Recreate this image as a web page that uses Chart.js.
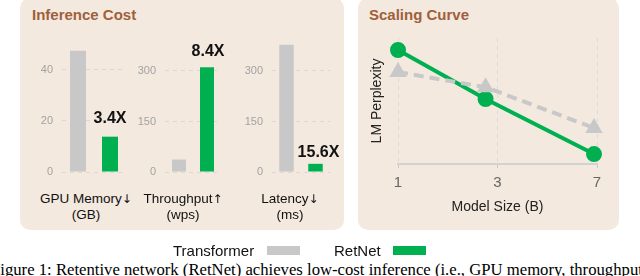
<!DOCTYPE html>
<html>
<head>
<meta charset="utf-8">
<script src="https://cdn.jsdelivr.net/npm/chart.js@4.4.1/dist/chart.umd.min.js"></script>
<style>
  html, body { margin: 0; padding: 0; background: #fff; }
  body { width: 640px; height: 276px; overflow: hidden; position: relative; font-family: "Liberation Sans", Arial, sans-serif; }
  .panel { position: absolute; top: -2px; height: 232px; background: #f3e9df; border-radius: 10px; }
  .title { position: absolute; top: 6px; font-weight: bold; font-size: 15px; color: #a0603a; white-space: nowrap; }
  .cat { position: absolute; top: 191px; width: 120px; text-align: center; font-size: 13.5px; line-height: 16px; color: #111; white-space: nowrap; }
  .arrow { font-family: "DejaVu Sans", sans-serif; font-size: 12px; color: #111; }
  canvas { position: absolute; }
  .legend { position: absolute; top: 242px; font-size: 15px; line-height: 17px; color: #111; white-space: nowrap; }
  .swatch { position: absolute; top: 246px; width: 33px; height: 9px; }
  .caption { position: absolute; top: 260px; left: -9px; font-family: "Liberation Serif", "Times New Roman", serif; font-size: 16.7px; color: #000; white-space: nowrap; }
</style>
</head>
<body>
<div class="panel" style="left:20px; width:324px;"></div>
<div class="panel" style="left:358px; width:261px;"></div>
<div class="title" style="left:32px;">Inference Cost</div>
<div class="title" style="left:369px;">Scaling Curve</div>

<canvas id="memChart" width="110" height="150" style="left:30px; top:30px; width:110px; height:150px;"></canvas>
<canvas id="tputChart" width="110" height="150" style="left:127px; top:30px; width:110px; height:150px;"></canvas>
<canvas id="latChart" width="112" height="150" style="left:232px; top:30px; width:112px; height:150px;"></canvas>
<canvas id="scaleChart" width="255" height="192" style="left:360px; top:28px; width:255px; height:192px;"></canvas>

<div id="cats"></div>

<div class="legend" style="left:173px;">Transformer</div>
<div class="swatch" style="left:267px; background:#c8c8c8;"></div>
<div class="legend" style="left:334px;">RetNet</div>
<div class="swatch" style="left:393px; background:#00b050;"></div>

<div class="caption">Figure 1: Retentive network (RetNet) achieves low-cost inference (i.e., GPU memory, throughput, and latency)</div>

<script>
// inference cost panels
const costMetrics = [["GPU Memory", "↓", "(GB)"], ["Throughput", "↑", "(wps)"], ["Latency", "↓", "(ms)"]];
const transformerCost = [47.4, 37, 378];
const retnetCost = [13.8, 311, 24.3];
const ratioLabels = ["3.4X", "8.4X", "15.6X"];
const costTicks = [[0, 20, 40], [0, 150, 300], [0, 150, 300]];

// scaling curve panel
const sizeTicks = ["1", "3", "7"];
const sizePos = [0, 0.88, 1.97];
const retnetPpl = [90.5, 51.6, 7.9];
const transformerPpl = [73, 61, 28.6];

const GRAY = "#c8c8c8";
const GREEN = "#00b050";
const FONT = "'Liberation Sans', Arial, sans-serif";

Chart.defaults.font.family = FONT;
Chart.defaults.animation = false;

const ratioLabelPlugin = {
  id: "ratioLabel",
  afterDatasetsDraw(chart, _args, options) {
    if (!options.text) return;
    const bar = chart.getDatasetMeta(1).data[0];
    if (!bar) return;
    const { ctx } = chart;
    ctx.save();
    ctx.font = `bold 16px ${FONT}`;
    ctx.fillStyle = "#111";
    ctx.textAlign = "center";
    ctx.textBaseline = "alphabetic";
    ctx.fillText(options.text, bar.x + (options.dx || 0), bar.y - options.gap);
    ctx.restore();
  },
};

// per panel layout: y-axis width, y max, right padding, label offsets
const costLayout = [
  { id: "memChart", axisWidth: 32, max: 50, step: 20, padRight: 14, gap: 13.5, dx: 0, catX: 86 },
  { id: "tputChart", axisWidth: 38, max: 380, step: 150, padRight: 16, gap: 11, dx: 1, catX: 183 },
  { id: "latChart", axisWidth: 40, max: 380, step: 150, padRight: 14, gap: 7, dx: 3, catX: 290 },
];

const buildCostChart = (index) => {
  const cfg = costLayout[index];
  const ticks = costTicks[index];
  return new Chart(document.getElementById(cfg.id), {
    type: "bar",
    data: {
      labels: [costMetrics[index][0]],
      datasets: [
        { label: "Transformer", data: [transformerCost[index]], backgroundColor: GRAY },
        { label: "RetNet", data: [retnetCost[index]], backgroundColor: GREEN },
      ],
    },
    options: {
      responsive: false,
      layout: { padding: { top: 14, bottom: 8, left: 0, right: cfg.padRight } },
      datasets: { bar: { barPercentage: 0.5, categoryPercentage: 1 } },
      plugins: {
        legend: { display: false },
        tooltip: { enabled: false },
        ratioLabel: { text: ratioLabels[index], gap: cfg.gap, dx: cfg.dx },
      },
      scales: {
        x: { display: false },
        y: {
          min: 0,
          max: cfg.max,
          afterBuildTicks(scale) {
            scale.ticks = ticks.map((value) => ({ value }));
          },
          afterFit(scale) {
            scale.width = cfg.axisWidth;
            scale.paddingTop = 0;
            scale.paddingBottom = 0;
          },
          ticks: { color: "#a3a3a3", font: { size: 11 }, padding: 9 },
          grid: { color: "rgba(200,200,200,0.55)", drawTicks: false, lineWidth: 1 },
          border: { display: false, dash: [4, 4] },
        },
      },
    },
    plugins: [ratioLabelPlugin],
  });
};

costLayout.forEach((cfg, index) => {
  buildCostChart(index);
  const [name, arrow, unit] = costMetrics[index];
  const div = document.createElement("div");
  div.className = "cat";
  div.style.left = `${cfg.catX - 60}px`;
  div.innerHTML = `${name}<span class="arrow">${arrow}</span><br>${unit}`;
  document.getElementById("cats").appendChild(div);
});

const toPoints = (values) => values.map((y, i) => ({ x: sizePos[i], y }));

new Chart(document.getElementById("scaleChart"), {
  type: "line",
  data: {
    datasets: [
      {
        label: "Transformer",
        data: toPoints(transformerPpl),
        borderColor: GRAY,
        backgroundColor: GRAY,
        borderWidth: 4,
        borderDash: [10, 6],
        pointStyle: "triangle",
        pointRadius: 6,
        clip: false,
      },
      {
        label: "RetNet",
        data: toPoints(retnetPpl),
        borderColor: GREEN,
        backgroundColor: GREEN,
        borderWidth: 4,
        pointRadius: 6,
        clip: false,
      },
    ],
  },
  options: {
    responsive: false,
    layout: { padding: { top: 10, right: 18, bottom: 0, left: 0 } },
    plugins: { legend: { display: false }, tooltip: { enabled: false } },
    scales: {
      x: {
        type: "linear",
        min: 0,
        max: 2,
        afterBuildTicks(scale) {
          scale.ticks = sizeTicks.map((_t, i) => ({ value: i }));
        },
        afterFit(scale) {
          scale.height = 56;
          scale.paddingLeft = 0;
          scale.paddingRight = 0;
        },
        ticks: {
          color: "#666",
          font: { size: 15 },
          padding: 6,
          callback: (value) => sizeTicks[value] ?? "",
        },
        grid: { color: "#dcdcdc", tickLength: 4, tickColor: "#c8c8c8", lineWidth: 1 },
        border: { color: "#d2d2d2", width: 2, dash: [4, 4] },
        title: { display: true, text: "Model Size (B)", color: "#222", font: { size: 14 }, padding: { top: 0, bottom: 4 } },
      },
      y: {
        min: 0,
        max: 100,
        afterFit(scale) {
          scale.width = 38;
          scale.paddingTop = 0;
          scale.paddingBottom = 0;
        },
        ticks: { display: false },
        grid: { display: false },
        border: { display: false },
        title: { display: true, text: "LM Perplexity", color: "#222", font: { size: 14 }, padding: { top: 9, bottom: 0 } },
      },
    },
  },
});
</script>
</body>
</html>
